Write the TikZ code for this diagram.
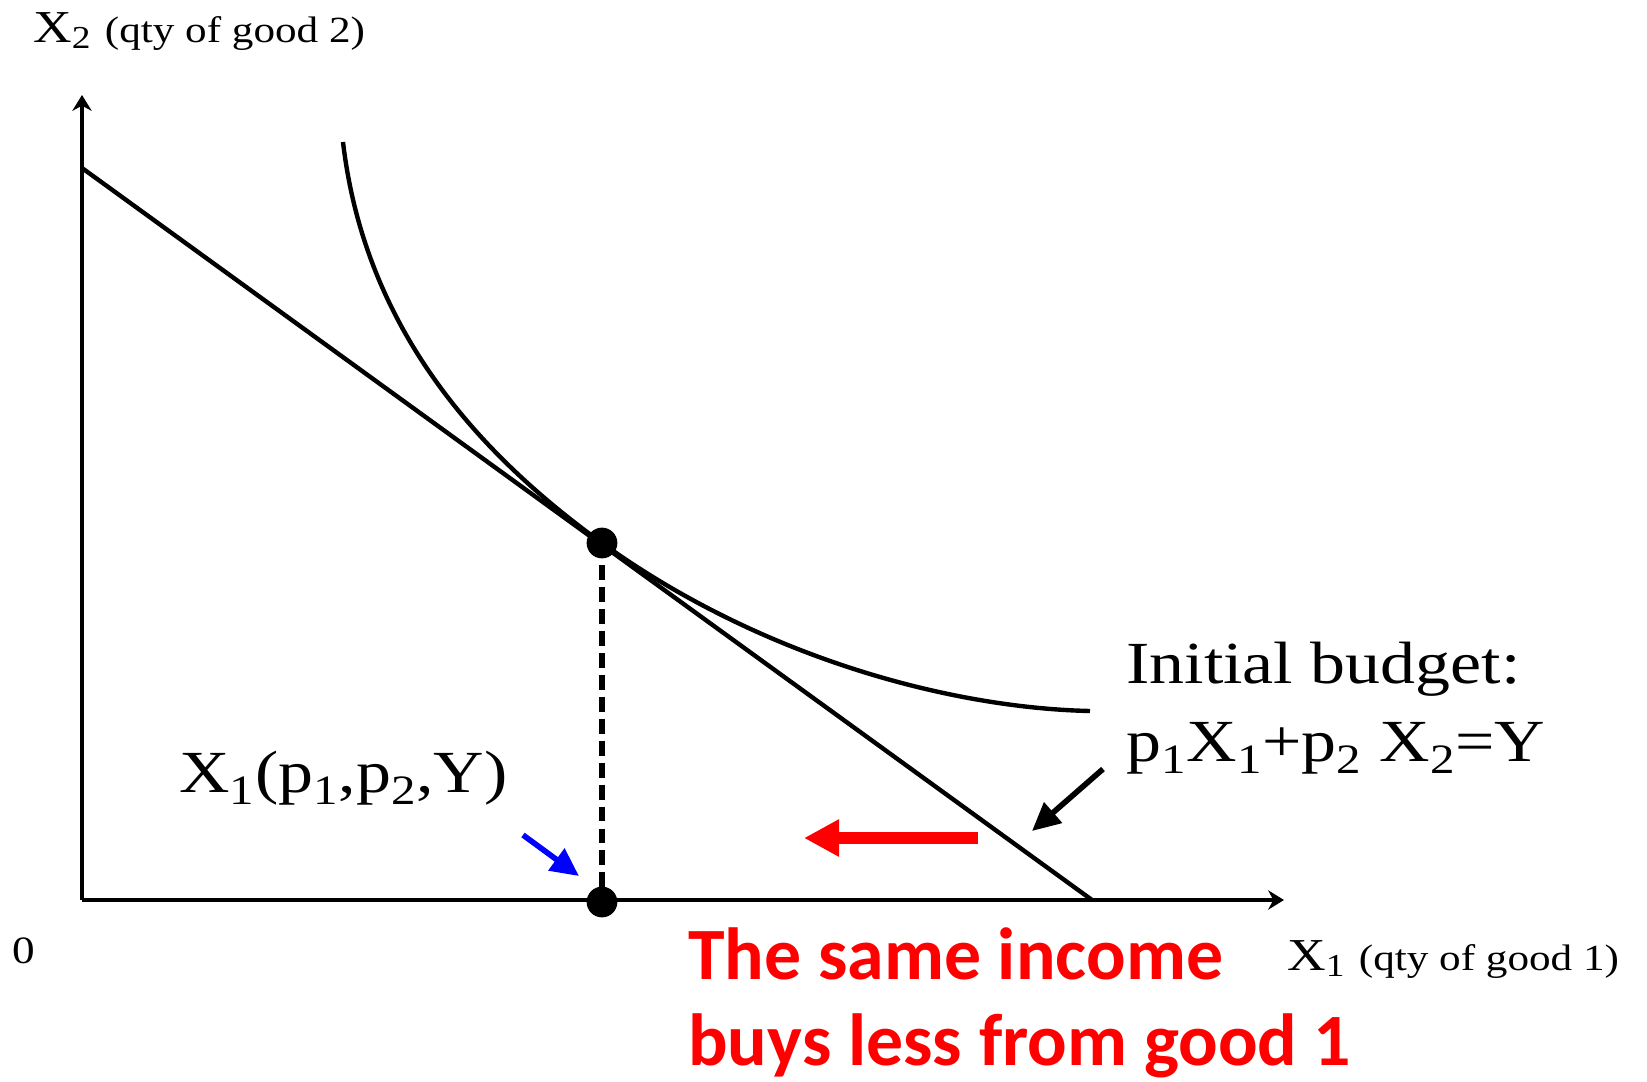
\documentclass[tikz,border=0pt]{standalone}
\usepackage{fontspec}
\setmainfont{Liberation Serif}[FakeStretch=1.17]
\newfontfamily\notefont{Carlito}
\usetikzlibrary{arrows.meta,positioning,calc}

\begin{document}
\begin{tikzpicture}[
  x=0.02cm, y=-0.02cm,
  axis/.style={line width=2.4pt, -{Stealth[length=9pt,width=11pt]}},
  curve/.style={line width=2.5pt},
  dot/.style={circle, fill=black, inner sep=0pt, minimum size=17.5pt},
  lbl/.style={inner sep=0pt, font=\fontsize{34}{44}\selectfont},
  axlbl/.style={inner sep=0pt, anchor=base west},
  note/.style={inner sep=0pt, text=red, align=left, font=\notefont\bfseries\fontsize{42}{49}\selectfont},
  ptr/.style={line width=3.2pt, -{Triangle[length=16pt,width=15pt]}}
]
  \useasboundingbox (0,0) rectangle (1647,1082);

  % axes
  \coordinate (o) at (82,900);
  \coordinate (ytop) at (82,95);
  \coordinate (xend) at (1284,900);
  \draw[axis] (o) -- (ytop);
  \draw[axis] (o) -- (xend);
  \node[inner sep=0pt, font=\fontsize{22}{22}\selectfont] (zero) at (24,951) {0};
  \node[axlbl] (ylab) at (33,42) {\fontsize{26}{26}\selectfont X\textsubscript{2} \fontsize{21}{21}\selectfont(qty of good 2)};
  \node[axlbl] (xlab) at (1287,970) {\fontsize{26}{26}\selectfont X\textsubscript{1} \fontsize{21}{21}\selectfont(qty of good 1)};

  % budget line and indifference curve
  \coordinate (bl) at (82,168);
  \coordinate (br) at (1092,900);
  \draw[curve] (bl) -- (br);
  \coordinate (ic1) at (343,142);
  \coordinate (ic2) at (1090,711);
  \node[dot] (opt) at (602,543) {};
  \draw[curve] (ic1) .. controls (365,330) and (480,455) .. (opt.center)
    .. controls (760,657) and (950,708) .. (ic2);

  % demand on the X1 axis
  \node[dot] (foot) at (602,902) {};
  \draw[line width=3pt, dash pattern=on 8.5pt off 4pt] (opt.center) -- (foot.center);
  \node[lbl, anchor=base west] (dem) at (179,792) {X\textsubscript{1}(p\textsubscript{1},p\textsubscript{2},Y)};
  \coordinate (bt) at (523,835);
  \coordinate (bh) at (579,876);
  \draw[ptr, blue] (bt) -- (bh);

  % budget label
  \node[lbl, anchor=west, align=left] (budget) at (1126,708)
    {Initial budget:\\p\textsubscript{1}X\textsubscript{1}+p\textsubscript{2} X\textsubscript{2}=Y};
  \coordinate (kt) at (1103,769);
  \coordinate (kh) at (1032,831);
  \draw[ptr] (kt) -- (kh);

  % shift of the budget
  \coordinate (rt) at (978,838);
  \coordinate (rh) at (804,838);
  \draw[red, line width=6.8pt, -{Triangle[length=20pt,width=20pt]}] (rt) -- (rh);
  \node[note, anchor=west] (shift) at (688,1003) {The same income\\buys less from good 1};
\end{tikzpicture}
\end{document}
